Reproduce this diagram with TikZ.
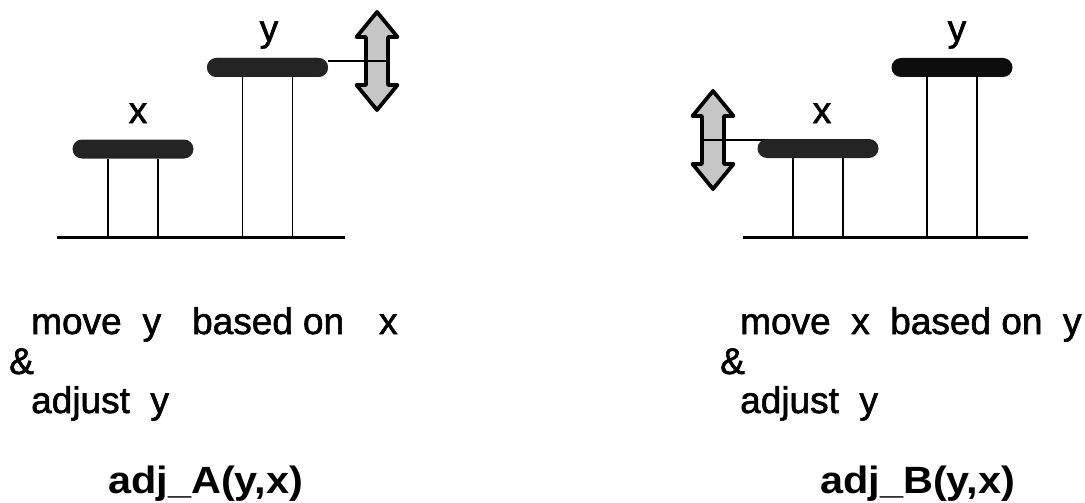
\documentclass[tikz,border=0pt]{standalone}
\usepackage{fontspec}
\setmainfont{Liberation Sans}
\newfontfamily\plainface[FakeBold=1.6]{Liberation Sans}
\tikzset{
  platform/.style={draw=none, fill=black!86, rounded corners=9.5pt,
    minimum width=121pt, minimum height=19pt, inner sep=0pt},
  leg/.style={line width=1.3pt},
  ground/.style={line width=3pt},
  tie/.style={line width=1.4pt},
  lbl/.style={font=\plainface\fontsize{37}{40}\selectfont, inner sep=0pt},
  caption/.style={font=\fontsize{38}{42}\selectfont\bfseries, inner sep=0pt,
    xscale=1.09, transform shape},
  dblarrow/.pic={
    \draw[line width=3.8pt, line join=round, fill=gray!45]
      (0,-49) -- (20.5,-24) -- (11,-24) -- (11,24) -- (20.5,24) -- (0,49)
      -- (-20.5,24) -- (-11,24) -- (-11,-24) -- (-20.5,-24) -- cycle;
    \coordinate (-w) at (-11,0);
    \coordinate (-e) at (11,0);
  }
}
\begin{document}
\begin{tikzpicture}[x=1pt, y=-1pt]
\useasboundingbox (0,0) rectangle (1085,503);

% ---------- left panel: adj_A ----------
\coordinate (gA1) at (57,237);
\coordinate (gA2) at (345,237);
\draw[ground] (gA1) -- (gA2);

\pic (arrA) at (377,61) {dblarrow};
\node[platform] (xA) at (133,149) {};
\node[platform] (yA) at (267.5,67.5) {};
\draw[tie] (arrA-w) -- (arrA-e);
\draw[tie] (arrA-w) -- (arrA-w -| yA.east);
\node[platform] at (yA) {};

\foreach \s in {-25,25} {
  \draw[leg] ([xshift=\s pt]xA.south) -- ([xshift=\s pt]xA.south |- gA1);
  \draw[leg] ([xshift=\s pt]yA.south) -- ([xshift=\s pt]yA.south |- gA1);
}

\node[lbl, anchor=base] (xlA) at (138,123) {x};
\node[lbl, anchor=base] (ylA) at (269,41) {y};

\node[lbl, anchor=base west] (tA1) at (31,334)
  {move\hspace{21pt}y\hspace{31pt}based\hspace{10pt}on\hspace{35pt}x};
\node[lbl, anchor=base west] (tA2) at (9,374) {\&};
\node[lbl, anchor=base west] (tA3) at (31,413) {adjust\ \ y};
\node[caption, anchor=base west] (tA4) at (108,493) {adj\_A(y,x)};

% ---------- right panel: adj_B ----------
\coordinate (gB1) at (743,237);
\coordinate (gB2) at (1028,237);
\draw[ground] (gB1) -- (gB2);

\pic (arrB) at (713,140) {dblarrow};
\draw[tie] (arrB-w) -- (arrB-e);
\draw[tie] (arrB-e) -- (arrB-e -| 800,0);
\node[platform] (xB) at (818,148.5) {};
\node[platform, fill=black!95] (yB) at (952,67.5) {};

\foreach \s in {-25,25} {
  \draw[leg] ([xshift=\s pt]xB.south) -- ([xshift=\s pt]xB.south |- gB1);
  \draw[leg] ([xshift=\s pt]yB.south) -- ([xshift=\s pt]yB.south |- gB1);
}

\node[lbl, anchor=base] (xlB) at (822,123) {x};
\node[lbl, anchor=base] (ylB) at (957,41) {y};

\node[lbl, anchor=base west] (tB1) at (740,334) {move\ \ x\ \ based on\ \ y};
\node[lbl, anchor=base west] (tB2) at (720,374) {\&};
\node[lbl, anchor=base west] (tB3) at (740,413) {adjust\ \ y};
\node[caption, anchor=base west] (tB4) at (820,493) {adj\_B(y,x)};
\end{tikzpicture}
\end{document}
